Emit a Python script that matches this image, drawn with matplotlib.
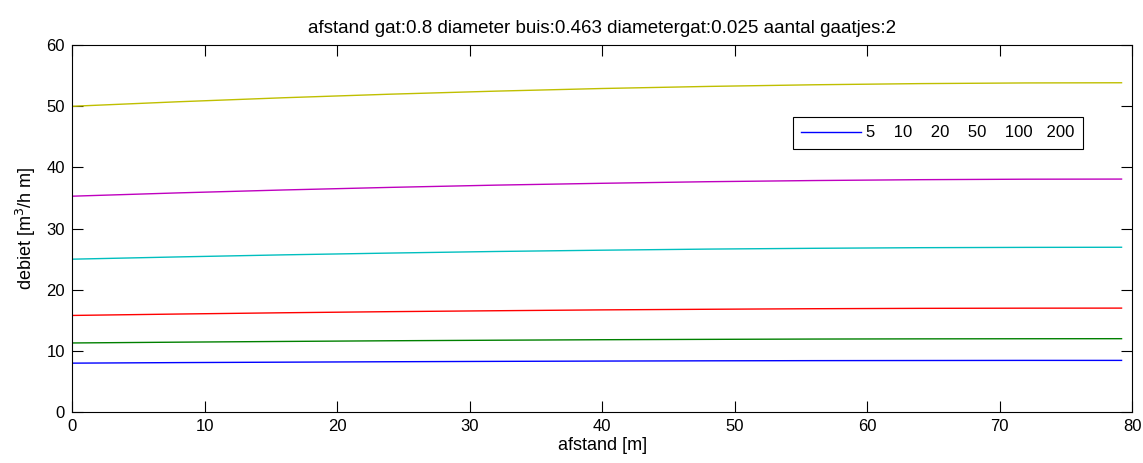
import numpy as np
import matplotlib
matplotlib.use('Agg')
import matplotlib.pyplot as plt

plt.rcParams['font.family'] = ['Liberation Sans', 'DejaVu Sans']

# afstand along the pipe [m]
afstand = [0, 8, 16, 24, 32, 40, 48, 56, 64, 72, 79.2]

# debiet [m3/h m] for the six cases
q_blue    = [8.0, 8.09, 8.16, 8.23, 8.29, 8.34, 8.38, 8.41, 8.43, 8.45, 8.45]
q_green   = [11.3, 11.43, 11.55, 11.66, 11.75, 11.83, 11.89, 11.94, 11.97, 11.99, 12.0]
q_red     = [15.8, 16.03, 16.24, 16.42, 16.57, 16.71, 16.81, 16.90, 16.96, 16.99, 17.0]
q_cyan    = [25.0, 25.37, 25.71, 26.0, 26.26, 26.47, 26.65, 26.78, 26.88, 26.93, 26.95]
q_magenta = [35.3, 35.84, 36.32, 36.74, 37.11, 37.41, 37.67, 37.86, 38.0, 38.08, 38.1]
q_yellow  = [50.0, 50.74, 51.40, 51.98, 52.48, 52.91, 53.25, 53.52, 53.71, 53.82, 53.85]

series = [q_blue, q_green, q_red, q_cyan, q_magenta, q_yellow]
colors = [(0, 0, 1), (0, 0.5, 0), (1, 0, 0), (0, 0.75, 0.75), (0.75, 0, 0.75), (0.75, 0.75, 0)]
legend_text = '5    10    20    50    100   200'
title = 'afstand gat:0.8 diameter buis:0.463 diametergat:0.025 aantal gaatjes:2'

fig = plt.figure(figsize=(11.43, 4.63), dpi=100)
ax = fig.add_axes([0.063, 0.110, 0.9275, 0.7925])

lines = []
for s, c in zip(series, colors):
    l, = ax.plot(afstand, s, color=c, lw=1.0)
    lines.append(l)

ax.set_xlim(0, 80)
ax.set_ylim(0, 60)
ax.set_xticks(range(0, 81, 10))
ax.set_yticks(range(0, 61, 10))
ax.tick_params(direction='in', length=8, width=0.8, top=True, right=True, labelsize=12, pad=5)
for sp in ax.spines.values():
    sp.set_linewidth(0.8)

ax.set_xlabel('afstand [m]', fontsize=13, labelpad=2)
ax.set_ylabel('debiet [m$^3$/h m]', fontsize=13, labelpad=6)
ax.set_title(title, fontsize=13.5, pad=9)

leg = ax.legend([lines[0]], [legend_text], loc='upper left', bbox_to_anchor=(0.680, 0.804),
                fontsize=12, frameon=True, fancybox=False, edgecolor='black', framealpha=1,
                handlelength=3.6, borderpad=0.5, handletextpad=0.3, borderaxespad=0)
leg.get_frame().set_linewidth(0.8)

fig.savefig('out.png', dpi=100)
